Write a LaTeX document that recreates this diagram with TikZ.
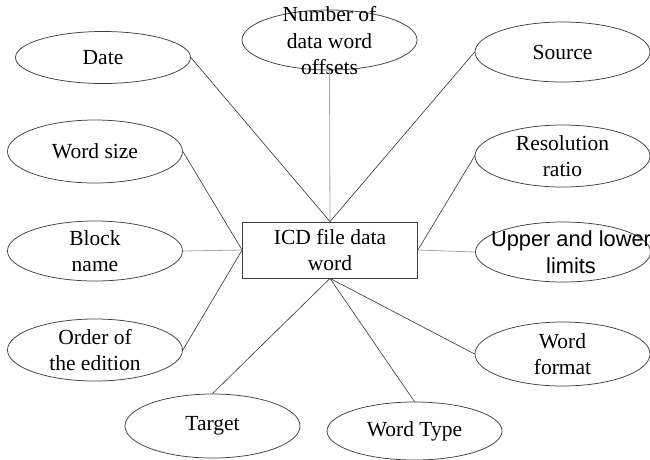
\documentclass[tikz,border=0pt]{standalone}
\usepackage{fontspec}
\setmainfont{Liberation Serif}
\newfontfamily\arialfont{Liberation Sans}
\usetikzlibrary{shapes.geometric}

\tikzset{
  attr/.style={ellipse, draw=black!75, line width=0.75pt, inner sep=0pt,
    minimum width=175pt, minimum height=#1},
  attr/.default=62pt,
  hub/.style={rectangle, draw=black!75, line width=0.75pt, align=center,
    minimum width=175pt, minimum height=56pt, inner sep=0pt},
  lbl/.style={align=center, inner sep=0pt},
  link/.style={draw=black!80, line width=0.6pt},
  flatlink/.style={draw=black!35, line width=0.8pt},
}

\begin{document}
\begin{tikzpicture}[x=1pt, y=-1pt, font=\fontsize{21.5}{26.5}\selectfont]
\useasboundingbox (0,0) rectangle (650,459);

% central entity
\node[hub] (icd) at (330,250) {ICD file data\\word};

% attributes, left column
\node[attr=52pt] (date) at (103,57.5) {};
\node[lbl] (datet) at (date.center) {Date};
\node[attr=63pt] (wsize) at (95,151.5) {};
\node[lbl] (wsizet) at (wsize.center) {Word size};
\node[attr=60pt] (block) at (95,251) {};
\node[lbl] (blockt) at (block.center) {Block\\name};
\node[attr=62pt] (order) at (95,350) {};
\node[lbl] (ordert) at (order.center) {Order of\\the edition};

% attributes, top and bottom
\node[attr=60pt] (offs) at (329.5,40) {};
\node[lbl] (offst) at (329.5,41) {Number of\\data word\\offsets};
\node[attr=64pt] (target) at (212.5,426) {};
\node[lbl] (targett) at (target.center) {Target};
\node[attr=58pt] (wtype) at (414.5,431) {};
\node[lbl] (wtypet) at (wtype.center) {Word Type};

% attributes, right column
\node[attr=60pt] (source) at (562.5,52) {};
\node[lbl] (sourcet) at (source.center) {Source};
\node[attr=62pt] (resol) at (562.5,156) {};
\node[lbl] (resolt) at (resol.center) {Resolution\\ratio};
\node[attr=60pt] (limits) at (563,252) {};
\node[lbl, font=\arialfont\fontsize{21.8}{26.5}\selectfont] (limitst) at (571,252) {Upper and lower\\limits};
\node[attr=64pt] (format) at (562.5,354) {};
\node[lbl] (formatt) at (format.center) {Word\\format};

% connectors
\draw[link] (date.east) -- (icd.north);
\draw[flatlink] (offs.south) -- (icd.north);
\draw[link] (source.west) -- (icd.north);
\draw[link] (wsize.east) -- (icd.west);
\draw[flatlink] (block.east) -- (icd.west);
\draw[link] (order.east) -- (icd.west);
\draw[link] (resol.west) -- (icd.east);
\draw[flatlink] (limits.west) -- (icd.east);
\draw[link] (format.west) -- (icd.south);
\draw[link] (wtype.north) -- (icd.south);
\draw[link] (target.north) -- (icd.south);
\end{tikzpicture}
\end{document}
